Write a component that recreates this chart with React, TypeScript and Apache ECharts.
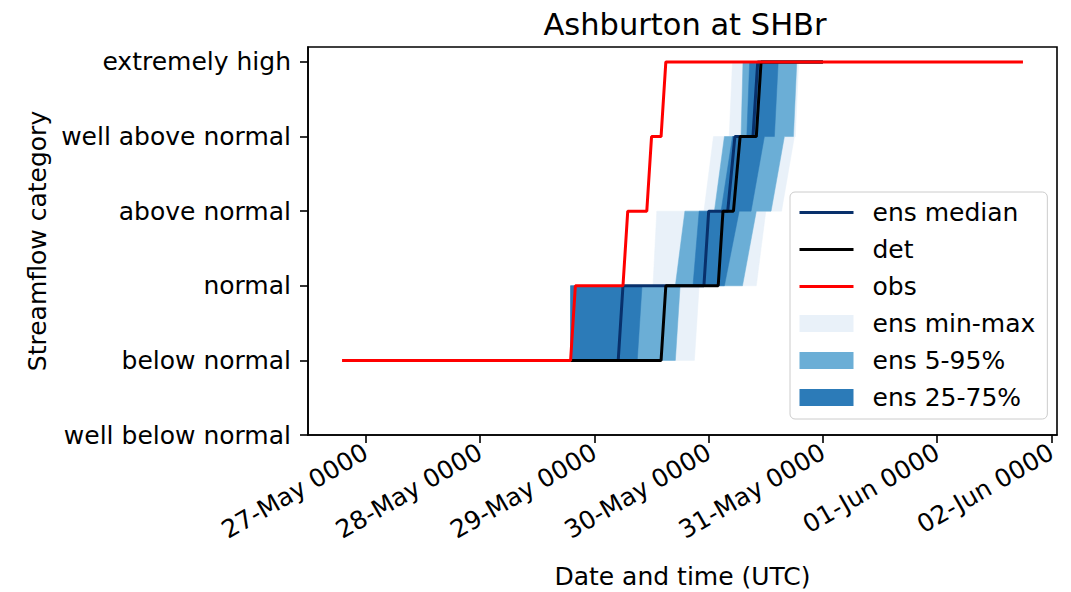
import React, { useEffect, useRef } from 'react';
import * as echarts from 'echarts';

const chartTitle = 'Ashburton at SHBr';
const xAxisName = 'Date and time (UTC)';
const yAxisName = 'Streamflow category';

// y categories (index = level)
const yCategories = [
  'well below normal',
  'below normal',
  'normal',
  'above normal',
  'well above normal',
  'extremely high',
];
const yTickValues = [0, 1, 2, 3, 4, 5];

// x ticks: hours since 27-May 00:00 UTC
const xTickHours = [0, 24, 48, 72, 96, 120, 144];
const xTickLabels = [
  '27-May 0000',
  '28-May 0000',
  '29-May 0000',
  '30-May 0000',
  '31-May 0000',
  '01-Jun 0000',
  '02-Jun 0000',
];

// curves: [hours since 27-May 00:00, category level]
const obs = [[-5, 1], [43, 1], [44, 2], [54, 2], [55, 3], [59, 3], [60, 4], [62, 4], [63, 5], [138, 5]];
const det = [[43, 1], [62, 1], [63, 2], [74, 2], [75, 3], [77.2, 3], [78.6, 4], [82, 4], [83, 5], [96, 5]];
const ensMedian = [[43, 1], [53, 1], [54, 2], [71, 2], [72, 3], [76, 3], [77.5, 4], [81.3, 4], [82.3, 5], [96, 5]];
const ensMax = [[43, 2], [60.3, 2], [61.1, 3], [71, 3], [73, 4], [76.3, 4], [77, 5], [96, 5]];
const ensQ95 = [[43, 2], [65, 2], [67, 3], [73.2, 3], [75.3, 4], [78.8, 4], [79.2, 5], [96, 5]];
const ensQ75 = [[43, 2], [68.7, 2], [70, 3], [74.6, 3], [77, 4], [80, 4], [80.6, 5], [96, 5]];
const ensQ25 = [[43, 1], [57, 1], [58, 2], [75.3, 2], [78.4, 3], [80.9, 3], [83.7, 4], [85.8, 4], [86.6, 5], [96, 5]];
const ensQ5 = [[43, 1], [65, 1], [66, 2], [79.1, 2], [82, 3], [85.1, 3], [87.9, 4], [89.8, 4], [90.5, 5], [96, 5]];
const ensMin = [[43, 1], [69, 1], [70, 2], [82, 2], [84, 3], [87.3, 3], [90, 4], [90.2, 4], [90.9, 5], [96, 5]];

const FONT = 'DejaVu Sans';
const FS = 25;

function bandSeries(name: string, upper: number[][], lower: number[][], color: string) {
  return {
    type: 'custom',
    name,
    coordinateSystem: 'cartesian2d',
    data: [upper[0]],
    encode: { x: 0, y: 1 },
    itemStyle: { color },
    silent: true,
    renderItem: (params: any, api: any) => {
      const pts = upper
        .map((p) => api.coord(p))
        .concat(lower.slice().reverse().map((p) => api.coord(p)));
      return {
        type: 'polygon',
        shape: { points: pts },
        style: { fill: color, stroke: color, lineWidth: 0.5 },
      };
    },
  };
}

function lineSeries(name: string, data: number[][], color: string) {
  return {
    type: 'line',
    name,
    data,
    showSymbol: false,
    symbol: 'none',
    lineStyle: { color, width: 3 },
    itemStyle: { color },
    silent: true,
  };
}

export default function App() {
  const ref = useRef<HTMLDivElement>(null);
  useEffect(() => {
    if (!ref.current) return;
    const chart = echarts.init(ref.current, null, { renderer: 'svg' });
    const option: any = {
      animation: false,
      backgroundColor: '#ffffff',
      textStyle: { fontFamily: FONT, color: '#000' },
      title: {
        text: chartTitle,
        left: 680,
        top: 4,
        textAlign: 'center',
        textStyle: { fontFamily: FONT, fontSize: 30.5, fontWeight: 'normal', color: '#000' },
      },
      grid: {
        left: 308,
        right: 14,
        top: 47,
        bottom: 157,
        show: true,
        borderColor: '#000',
        borderWidth: 1.6,
        backgroundColor: 'transparent',
        outerBoundsMode: 'none',
      },
      xAxis: {
        type: 'value',
        min: -12.15,
        max: 145.15,
        name: xAxisName,
        nameLocation: 'middle',
        nameGap: 129,
        nameTextStyle: { fontFamily: FONT, fontSize: FS, color: '#000' },
        axisLine: { show: true, onZero: false, lineStyle: { color: '#000', width: 1.6 } },
        axisTick: {
          show: true,
          length: 8,
          customValues: xTickHours,
          lineStyle: { color: '#000', width: 1.6 },
        },
        axisLabel: {
          customValues: xTickHours,
          rotate: 30,
          margin: 15,
          fontFamily: FONT,
          fontSize: FS,
          color: '#000',
          formatter: (v: number) => {
            const i = xTickHours.indexOf(Math.round(v));
            return i >= 0 ? xTickLabels[i] : '';
          },
        },
        splitLine: { show: false },
      },
      yAxis: {
        type: 'value',
        min: 0,
        max: 5.2,
        name: yAxisName,
        nameLocation: 'middle',
        nameGap: 258,
        nameRotate: 90,
        nameTextStyle: { fontFamily: FONT, fontSize: FS, color: '#000' },
        axisLine: { show: true, onZero: false, lineStyle: { color: '#000', width: 1.6 } },
        axisTick: {
          show: true,
          length: 8,
          customValues: yTickValues,
          lineStyle: { color: '#000', width: 1.6 },
        },
        axisLabel: {
          customValues: yTickValues,
          margin: 17,
          fontFamily: FONT,
          fontSize: FS,
          color: '#000',
          formatter: (v: number) => yCategories[Math.round(v)] ?? '',
        },
        splitLine: { show: false },
      },
      legend: {
        orient: 'vertical',
        left: 790,
        top: 192,
        padding: [8, 12, 9, 8],
        itemGap: 12,
        itemWidth: 54,
        itemHeight: 17,
        backgroundColor: 'rgba(255,255,255,0.8)',
        borderColor: '#cccccc',
        borderWidth: 1,
        borderRadius: 5,
        selectedMode: false,
        lineStyle: { width: 3 },
        textStyle: { fontFamily: FONT, fontSize: FS, color: '#000', lineHeight: 25, padding: [0, 0, 0, 14] },
        data: [
          { name: 'ens median', itemStyle: { opacity: 0 }, lineStyle: { width: 3 } },
          { name: 'det', itemStyle: { opacity: 0 }, lineStyle: { width: 3 } },
          { name: 'obs', itemStyle: { opacity: 0 }, lineStyle: { width: 3 } },
          { name: 'ens min-max', icon: 'rect' },
          { name: 'ens 5-95%', icon: 'rect' },
          { name: 'ens 25-75%', icon: 'rect' },
        ],
      },
      series: [
        bandSeries('ens min-max', ensMax, ensMin, '#e9f1f9'),
        bandSeries('ens 5-95%', ensQ95, ensQ5, '#6baed6'),
        bandSeries('ens 25-75%', ensQ75, ensQ25, '#2c7bb8'),
        lineSeries('ens median', ensMedian, '#08306b'),
        lineSeries('det', det, '#000000'),
        lineSeries('obs', obs, '#ff0000'),
      ],
    };
    chart.setOption(option);
    return () => chart.dispose();
  }, []);
  return (
    <div
      ref={ref}
      style={{ position: 'absolute', left: 0, top: 0, width: 1071, height: 592 }}
    />
  );
}
